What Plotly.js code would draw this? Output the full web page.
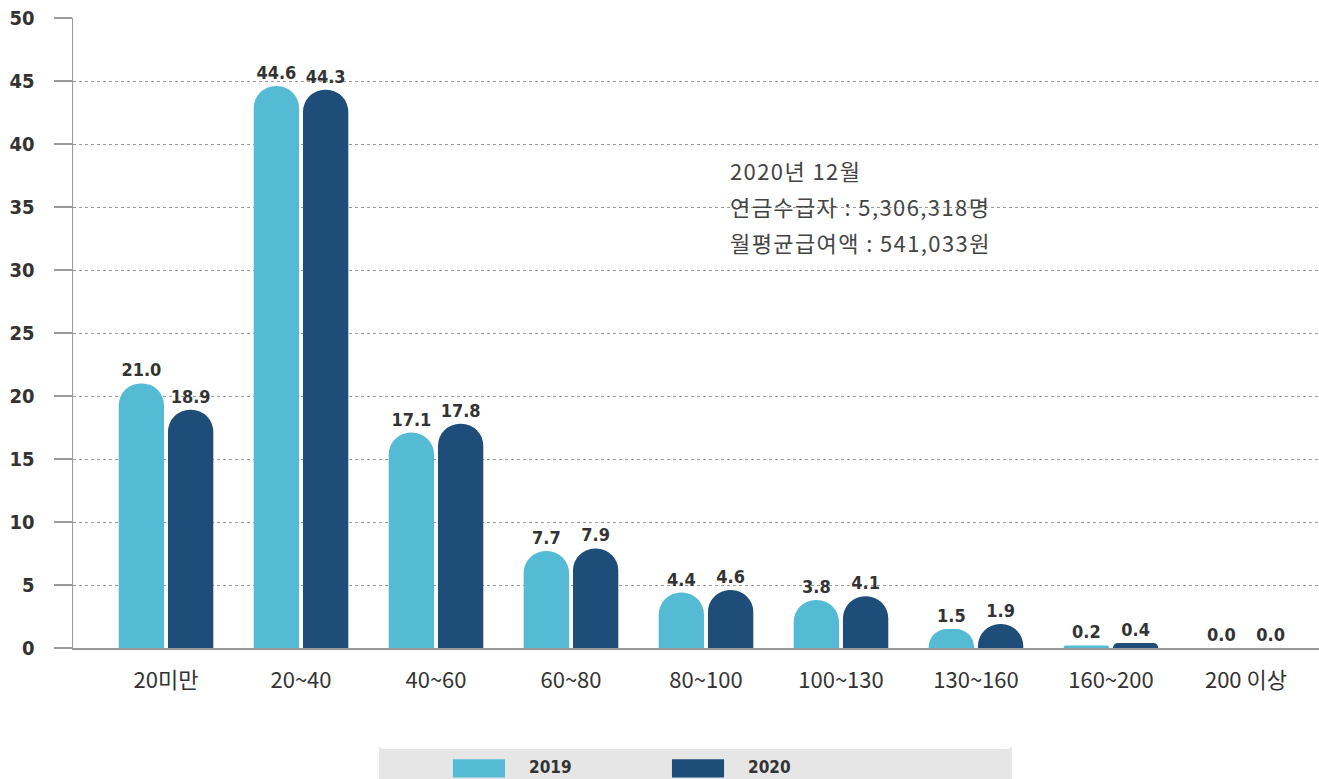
<!DOCTYPE html>
<html>
<head>
<meta charset="utf-8">
<script src="https://cdn.plot.ly/plotly-3.0.1.min.js"></script>
<style>
html,body{margin:0;padding:0;background:#fff;}
#chart{width:1319px;height:779px;}
</style>
</head>
<body>
<div id="chart"></div>
<script>
const categories = ['20미만','20~40','40~60','60~80','80~100','100~130','130~160','160~200','200 이상'];
const values2019 = [21.0, 44.6, 17.1, 7.7, 4.4, 3.8, 1.5, 0.2, 0.0];
const values2020 = [18.9, 44.3, 17.8, 7.9, 4.6, 4.1, 1.9, 0.4, 0.0];
const seriesNames = ['2019', '2020'];
const yTicks = [0,5,10,15,20,25,30,35,40,45,50];
const noteLines = ['2020년 12월', '연금수급자 : 5,306,318명', '월평균급여액 : 541,033원'];

const c2019 = '#55BBD5';
const c2020 = '#1F4D79';
const condBold = 'DejaVu Sans Condensed, DejaVu Sans, sans-serif';
const labelFont = {family: condBold, size: 18, color: '#333333', weight: 'bold'};

function barTrace(name, vals, color) {
  return {
    type: 'bar', name: name, x: categories, y: vals,
    marker: {color: color, cornerradius: '50%', line: {width: 0}},
    text: vals.map(v => v.toFixed(1)), textposition: 'outside',
    textfont: labelFont, cliponaxis: false, hoverinfo: 'x+y'
  };
}

const data = [
  barTrace(seriesNames[0], values2019, c2019),
  barTrace(seriesNames[1], values2020, c2020)
];

const noteFont = {family: 'Noto Sans CJK KR, sans-serif', size: 22, color: '#444444'};
const annotations = noteLines.map((t, i) => ({
  xref: 'paper', yref: 'paper', x: 0.5257, y: 0.7587 - i * 0.057,
  xanchor: 'left', yanchor: 'middle', text: t, showarrow: false, font: noteFont
}));

// legend (custom, inside rounded grey box)
const legFont = {family: condBold, size: 17, color: '#333333', weight: 'bold'};
annotations.push({xref: 'paper', yref: 'paper', x: 0.3647, y: -0.189, xanchor: 'left', yanchor: 'middle', text: seriesNames[0], showarrow: false, font: legFont});
annotations.push({xref: 'paper', yref: 'paper', x: 0.5398, y: -0.189, xanchor: 'left', yanchor: 'middle', text: seriesNames[1], showarrow: false, font: legFont});

function roundRectPath(x0, y0, x1, y1, r) {
  return `M${x0+r},${y0} L${x1-r},${y0} Q${x1},${y0} ${x1},${y0+r} L${x1},${y1-r} Q${x1},${y1} ${x1-r},${y1} L${x0+r},${y1} Q${x0},${y1} ${x0},${y1-r} L${x0},${y0+r} Q${x0},${y0} ${x0+r},${y0} Z`;
}

const shapes = [
  {type: 'path', xref: 'paper', yref: 'paper', layer: 'below',
   path: roundRectPath(0.2455, -0.1605, 0.7535, -0.235, 0.006),
   fillcolor: '#E6E6E6', line: {width: 0}},
  {type: 'rect', xref: 'paper', yref: 'paper', x0: 0.3049, x1: 0.3467, y0: -0.1765, y1: -0.2055, fillcolor: c2019, line: {width: 0}},
  {type: 'rect', xref: 'paper', yref: 'paper', x0: 0.4807, x1: 0.5225, y0: -0.1765, y1: -0.2055, fillcolor: c2020, line: {width: 0}}
];

const layout = {
  width: 1319, height: 779,
  margin: {l: 73, r: 0, t: 18, b: 131},
  paper_bgcolor: '#ffffff', plot_bgcolor: '#ffffff',
  showlegend: false,
  barmode: 'group', bargap: 0.27, bargroupgap: 0.08,
  font: {family: 'Noto Sans CJK KR, sans-serif', color: '#333333'},
  xaxis: {
    type: 'category', range: [-0.689, 8.541],
    showgrid: false, showline: true, linecolor: '#9a9a9a', linewidth: 1.5,
    ticks: '', tickfont: {family: 'Noto Sans CJK KR, sans-serif', size: 22, color: '#333333'},
    ticklabelstandoff: 12, zeroline: false, fixedrange: true
  },
  yaxis: {
    range: [0, 50], tickvals: yTicks, ticktext: yTicks.map(String),
    showgrid: true, gridcolor: '#9a9a9a', griddash: 'dot', gridwidth: 1,
    showline: true, linecolor: '#9a9a9a', linewidth: 1.5,
    ticks: 'outside', ticklen: 18, tickcolor: '#9a9a9a', tickwidth: 1.5,
    tickfont: {family: condBold, size: 20, color: '#333333', weight: 'bold'},
    ticklabelstandoff: 15, zeroline: false, fixedrange: true
  },
  annotations: annotations,
  shapes: shapes
};

Plotly.newPlot('chart', data, layout, {displayModeBar: false, staticPlot: true}).then(() => {
  document.querySelectorAll('#chart .annotation-text').forEach(t => {
    if (/[가-힣]/.test(t.textContent)) {
      const bb = t.getBBox();
      t.style.letterSpacing = '1.4px';
      t.setAttribute('text-anchor', 'start');
      t.style.textAnchor = 'start';
      t.setAttribute('x', bb.x);
    }
  });
});
</script>
</body>
</html>
